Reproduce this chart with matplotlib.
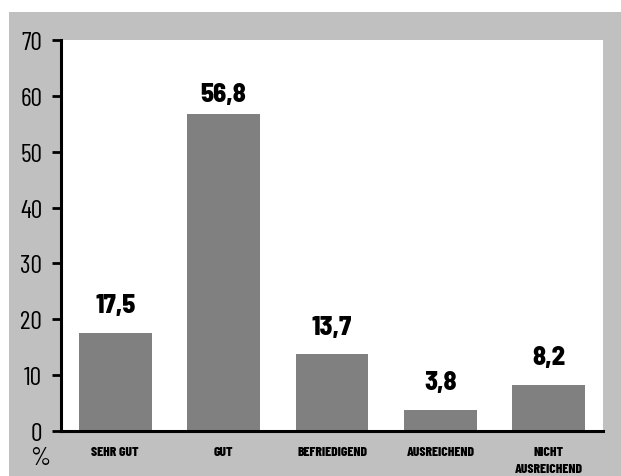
import matplotlib.pyplot as plt
from matplotlib.patches import Rectangle

categories = ["SEHR GUT", "GUT", "BEFRIEDIGEND", "AUSREICHEND", "NICHT\nAUSREICHEND"]
values = [17.5, 56.8, 13.7, 3.8, 8.2]
value_labels = ["17,5", "56,8", "13,7", "3,8", "8,2"]
yticks = [0, 10, 20, 30, 40, 50, 60, 70]

# label gap above each bar in points (tallest one sits closer)
label_pad = [15, 9, 15, 15, 15]

fam = ["Barlow Condensed", "DejaVu Sans"]
plt.rcParams["font.family"] = fam

fig = plt.figure(figsize=(6.21, 4.77), dpi=100)
# grey frame behind the plot area
fig.patches.append(Rectangle((9 / 621, 0), 1, (477 - 13) / 477, transform=fig.transFigure,
                             facecolor="#c0c0c0", edgecolor="none", zorder=-1))

ax = fig.add_axes([61 / 621, 45 / 477, 542 / 621, 391 / 477])
ax.set_facecolor("white")

x = range(len(categories))
ax.bar(x, values, width=0.67, color="#808080", zorder=2)

for i, (v, lab) in enumerate(zip(values, value_labels)):
    ax.annotate(lab, (i, v), xytext=(0, label_pad[i]), textcoords="offset points",
                ha="center", va="baseline", fontsize=19, fontweight=800,
                family=["Barlow Semi Condensed", "DejaVu Sans"])

ax.set_xlim(-0.5, len(categories) - 0.5)
ax.set_ylim(0, 70)
ax.set_yticks(yticks)
ax.set_yticklabels([str(t) for t in yticks], fontsize=18.5)
ax.set_xticks(list(x))
ax.set_xticklabels(categories, fontsize=9.8, fontweight=800, linespacing=1.65)
ax.tick_params(axis="x", length=0, pad=11)
ax.tick_params(axis="y", length=6.5, width=2, pad=7, direction="out")

for s in ["top", "right"]:
    ax.spines[s].set_visible(False)
ax.spines["left"].set_linewidth(2.2)
ax.spines["bottom"].set_linewidth(2.2)

fig.text(40.5 / 621, 1 - 459 / 477, "%", fontsize=18.5, ha="center", va="center")

fig.savefig("out.png", dpi=100)
